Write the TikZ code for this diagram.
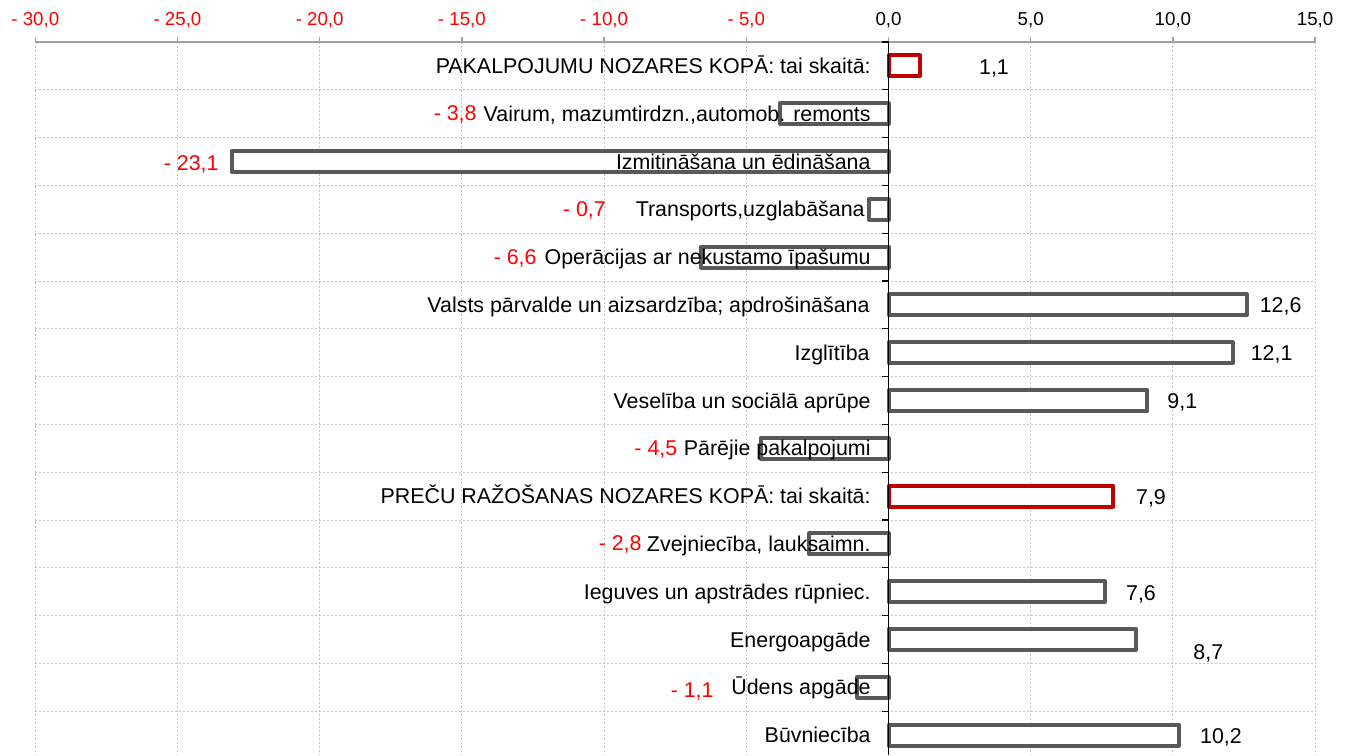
\documentclass[tikz,border=0pt]{standalone}
\usepackage{fontspec}
\setmainfont{Liberation Sans}
\definecolor{bargray}{HTML}{595959}
\definecolor{barred}{HTML}{C00000}
\definecolor{negred}{HTML}{FF0000}
\definecolor{gridc}{HTML}{C4C4C4}
\definecolor{axisc}{HTML}{A0A0A0}
\begin{document}
\begin{tikzpicture}[x=0.5pt,y=-0.5pt,
  catlab/.style={anchor=base east, inner sep=0pt, font=\fontsize{10.7}{12}\selectfont},
  poslab/.style={anchor=base west, inner sep=0pt, font=\fontsize{10.7}{12}\selectfont},
  neglab/.style={anchor=base east, inner sep=0pt, text=negred, font=\fontsize{10.7}{12}\selectfont},
  axlab/.style={anchor=base, inner sep=0pt, font=\fontsize{9.35}{11}\selectfont},
  barbox/.style={draw=bargray, line width=2pt, fill=white, line join=round},
  totbox/.style={barbox, draw=barred},
  gridline/.style={draw=gridc, line width=0.5pt, dash pattern=on 1pt off 1pt},
  axisline/.style={draw=axisc, line width=0.75pt},
  zeroline/.style={draw=black, line width=0.6pt}]
\useasboundingbox (0,0) rectangle (1349,755);
\fill[white] (0,0) rectangle (1349,755);
% grid
\foreach \k in {1,...,14}{
  \draw[gridline] (35.3,{42+47.8*\k}) -- (1315.1,{42+47.8*\k});
}
\foreach \v in {-30,-25,...,15}{
  \draw[gridline] ({888.5+28.44*\v},42) -- ({888.5+28.44*\v},755);
}
% top axis
\draw[axisline] (35.3,42) -- (1315.1,42);
\foreach \v in {-30,-25,...,15}{
  \draw[axisline] ({888.5+28.44*\v},42) -- ({888.5+28.44*\v},36.5);
}
\foreach \v/\t/\c in {-30/- 30{,}0/negred,-25/- 25{,}0/negred,-20/- 20{,}0/negred,-15/- 15{,}0/negred,-10/- 10{,}0/negred,-5/- 5{,}0/negred,0/0{,}0/black,5/5{,}0/black,10/10{,}0/black,15/15{,}0/black}{
  \node[axlab, text=\c] (ax\v) at ({888.5+28.44*\v},25.7) {\t};
}
% bars
\foreach \i/\v/\st in {0/1.1/totbox,1/-3.8/barbox,2/-23.1/barbox,3/-0.7/barbox,4/-6.6/barbox,5/12.6/barbox,6/12.1/barbox,7/9.1/barbox,8/-4.5/barbox,9/7.9/totbox,10/-2.8/barbox,11/7.6/barbox,12/8.7/barbox,13/-1.1/barbox,14/10.2/barbox}{
  \pgfmathsetmacro\yc{42+47.8*(\i+0.5)}
  \draw[\st] (888.5,{\yc-10.5}) rectangle ({888.5+28.44*\v},{\yc+10.5});
}
% zero line with category ticks
\draw[zeroline] (888.5,42) -- (888.5,755);
\foreach \k in {0,...,14}{
  \draw[zeroline] (882,{42+47.8*\k}) -- (888.5,{42+47.8*\k});
}
% category labels
\node[catlab] (c0) at (871,73.4) {PAKALPOJUMU NOZARES KOPĀ: tai skaitā:};
\node[catlab] (c1) at (871,121.2) {Vairum, mazumtirdzn.,automob. remonts};
\node[catlab] (c2) at (871,169.0) {Izmitināšana un ēdināšana};
\node[catlab] (c3) at (865,216.8) {Transports,uzglabāšana};
\node[catlab] (c4) at (871,264.6) {Operācijas ar nekustamo īpašumu};
\node[catlab] (c5) at (870,312.4) {Valsts pārvalde un aizsardzība; apdrošināšana};
\node[catlab] (c6) at (870,360.2) {Izglītība};
\node[catlab] (c7) at (871,408.0) {Veselība un sociālā aprūpe};
\node[catlab] (c8) at (871,455.8) {Pārējie pakalpojumi};
\node[catlab] (c9) at (871,503.6) {PREČU RAŽOŠANAS NOZARES KOPĀ: tai skaitā:};
\node[catlab] (c10) at (871,551.4) {Zvejniecība, lauksaimn.};
\node[catlab] (c11) at (871,599.2) {Ieguves un apstrādes rūpniec.};
\node[catlab] (c12) at (871,647.0) {Energoapgāde};
\node[catlab] (c13) at (871,694.8) {Ūdens apgāde};
\node[catlab] (c14) at (871,742.6) {Būvniecība};
% value labels
\node[poslab] (v0) at (978.7,74.7) {1,1};
\node[neglab] (v1) at (477,120.7) {- 3,8};
\node[neglab] (v2) at (219,170.4) {- 23,1};
\node[neglab] (v3) at (606.2,216.7) {- 0,7};
\node[neglab] (v4) at (537,264.7) {- 6,6};
\node[poslab] (v5) at (1259.4,312.7) {12,6};
\node[poslab] (v6) at (1250.4,360.4) {12,1};
\node[poslab] (v7) at (1167,408.4) {9,1};
\node[neglab] (v8) at (677.7,455.7) {- 4,5};
\node[poslab] (v9) at (1135.7,504.4) {7,9};
\node[neglab] (v10) at (642,550.7) {- 2,8};
\node[poslab] (v11) at (1125.7,600.4) {7,6};
\node[poslab] (v12) at (1193,659.4) {8,7};
\node[neglab] (v13) at (714,697) {- 1,1};
\node[poslab] (v14) at (1199.7,743.4) {10,2};
\end{tikzpicture}
\end{document}
